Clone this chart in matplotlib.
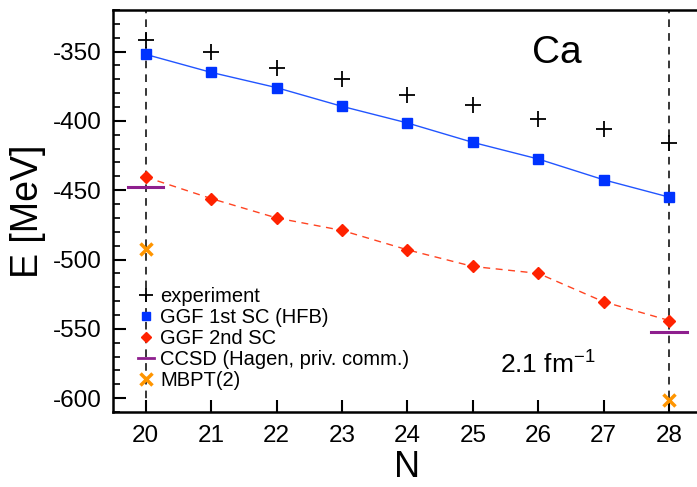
import matplotlib
matplotlib.use("Agg")
import matplotlib.pyplot as plt
from matplotlib.lines import Line2D

plt.rcParams['font.family'] = ['Liberation Sans', 'DejaVu Sans']
plt.rcParams['axes.unicode_minus'] = False

# data
N = [20, 21, 22, 23, 24, 25, 26, 27, 28]
experiment = [-342.0, -350.4, -361.9, -369.8, -381.0, -388.4, -398.8, -406.0, -416.0]
ggf_1st = [-352.0, -365.0, -376.0, -389.5, -401.5, -415.5, -427.5, -442.5, -455.0]
ggf_2nd = [-440.5, -456.0, -470.0, -479.0, -493.0, -505.0, -510.0, -530.5, -544.0]
N_closed = [20, 28]
ccsd = [-447.8, -552.5]
mbpt2 = [-492.5, -601.5]

fig = plt.figure(figsize=(6.97, 4.87), dpi=100)
ax = fig.add_axes([0.162, 0.154, 0.845, 0.8255])

# shell closures
for n in N_closed:
    ax.axvline(n, color="black", ls=(0, (5, 4)), lw=1.1, zorder=1)

ax.plot(N, ggf_1st, color="#2255ff", lw=1.0, zorder=2)
ax.plot(N, ggf_1st, ls="none", marker="s", ms=7, color="#0033ff", zorder=3)
ax.plot(N, ggf_2nd, color="#ff4422", lw=1.0, ls=(0, (5, 4)), zorder=2)
ax.plot(N, ggf_2nd, ls="none", marker="D", ms=6, color="#ff2200", zorder=3)
ax.plot(N, experiment, ls="none", marker="+", ms=11, mew=1.3, color="black", zorder=4)
for n, e in zip(N_closed, ccsd):
    ax.plot([n - 0.27, n + 0.27], [e, e], color="#8e1f8e", lw=2.2, zorder=3)
ax.plot(N_closed, mbpt2, ls="none", marker="x", ms=9, mew=2.5, color="#ff9500", zorder=4)

ax.set_xlim(19.5, 28.5)
ax.set_ylim(-610, -320)
ax.set_xticks(N)
ax.set_yticks([-350, -400, -450, -500, -550, -600])
ax.set_yticks(range(-610, -319, 10), minor=True)
ax.tick_params(axis="both", which="major", direction="in", length=9, width=1.5,
               labelsize=17.5, pad=8)
ax.tick_params(axis="x", which="major", pad=9.5)
ax.tick_params(axis="y", which="minor", direction="in", length=5, width=1.2)
for sp in ax.spines.values():
    sp.set_linewidth(1.8)

ax.set_xlabel("N", fontsize=26, labelpad=2)
ax.set_ylabel("E [MeV]", fontsize=27, labelpad=5)

ax.text(26.29, -351, "Ca", fontsize=28, ha="center", va="center")
ax.text(26.15, -575, "2.1 fm$^{\\mathregular{-1}}$", fontsize=19, ha="center", va="center")

handles = [
    Line2D([], [], ls="none", marker="+", ms=10, mew=1.3, color="black"),
    Line2D([], [], ls="none", marker="s", ms=6, color="#0033ff"),
    Line2D([], [], ls="none", marker="D", ms=5, color="#ff2200"),
    Line2D([], [], color="#8e1f8e", lw=2),
    Line2D([], [], ls="none", marker="x", ms=8, mew=2.5, color="#ff9500"),
]
labels = ["experiment", "GGF 1st SC (HFB)", "GGF 2nd SC",
          "CCSD (Hagen, priv. comm.)", "MBPT(2)"]
ax.legend(handles, labels, loc="upper left", bbox_to_anchor=(0.0425, 0.312),
          frameon=False, fontsize=14.5, handlelength=0.8, handletextpad=0.3,
          labelspacing=0.1, borderaxespad=0, borderpad=0)

fig.savefig("out.png", dpi=100)
